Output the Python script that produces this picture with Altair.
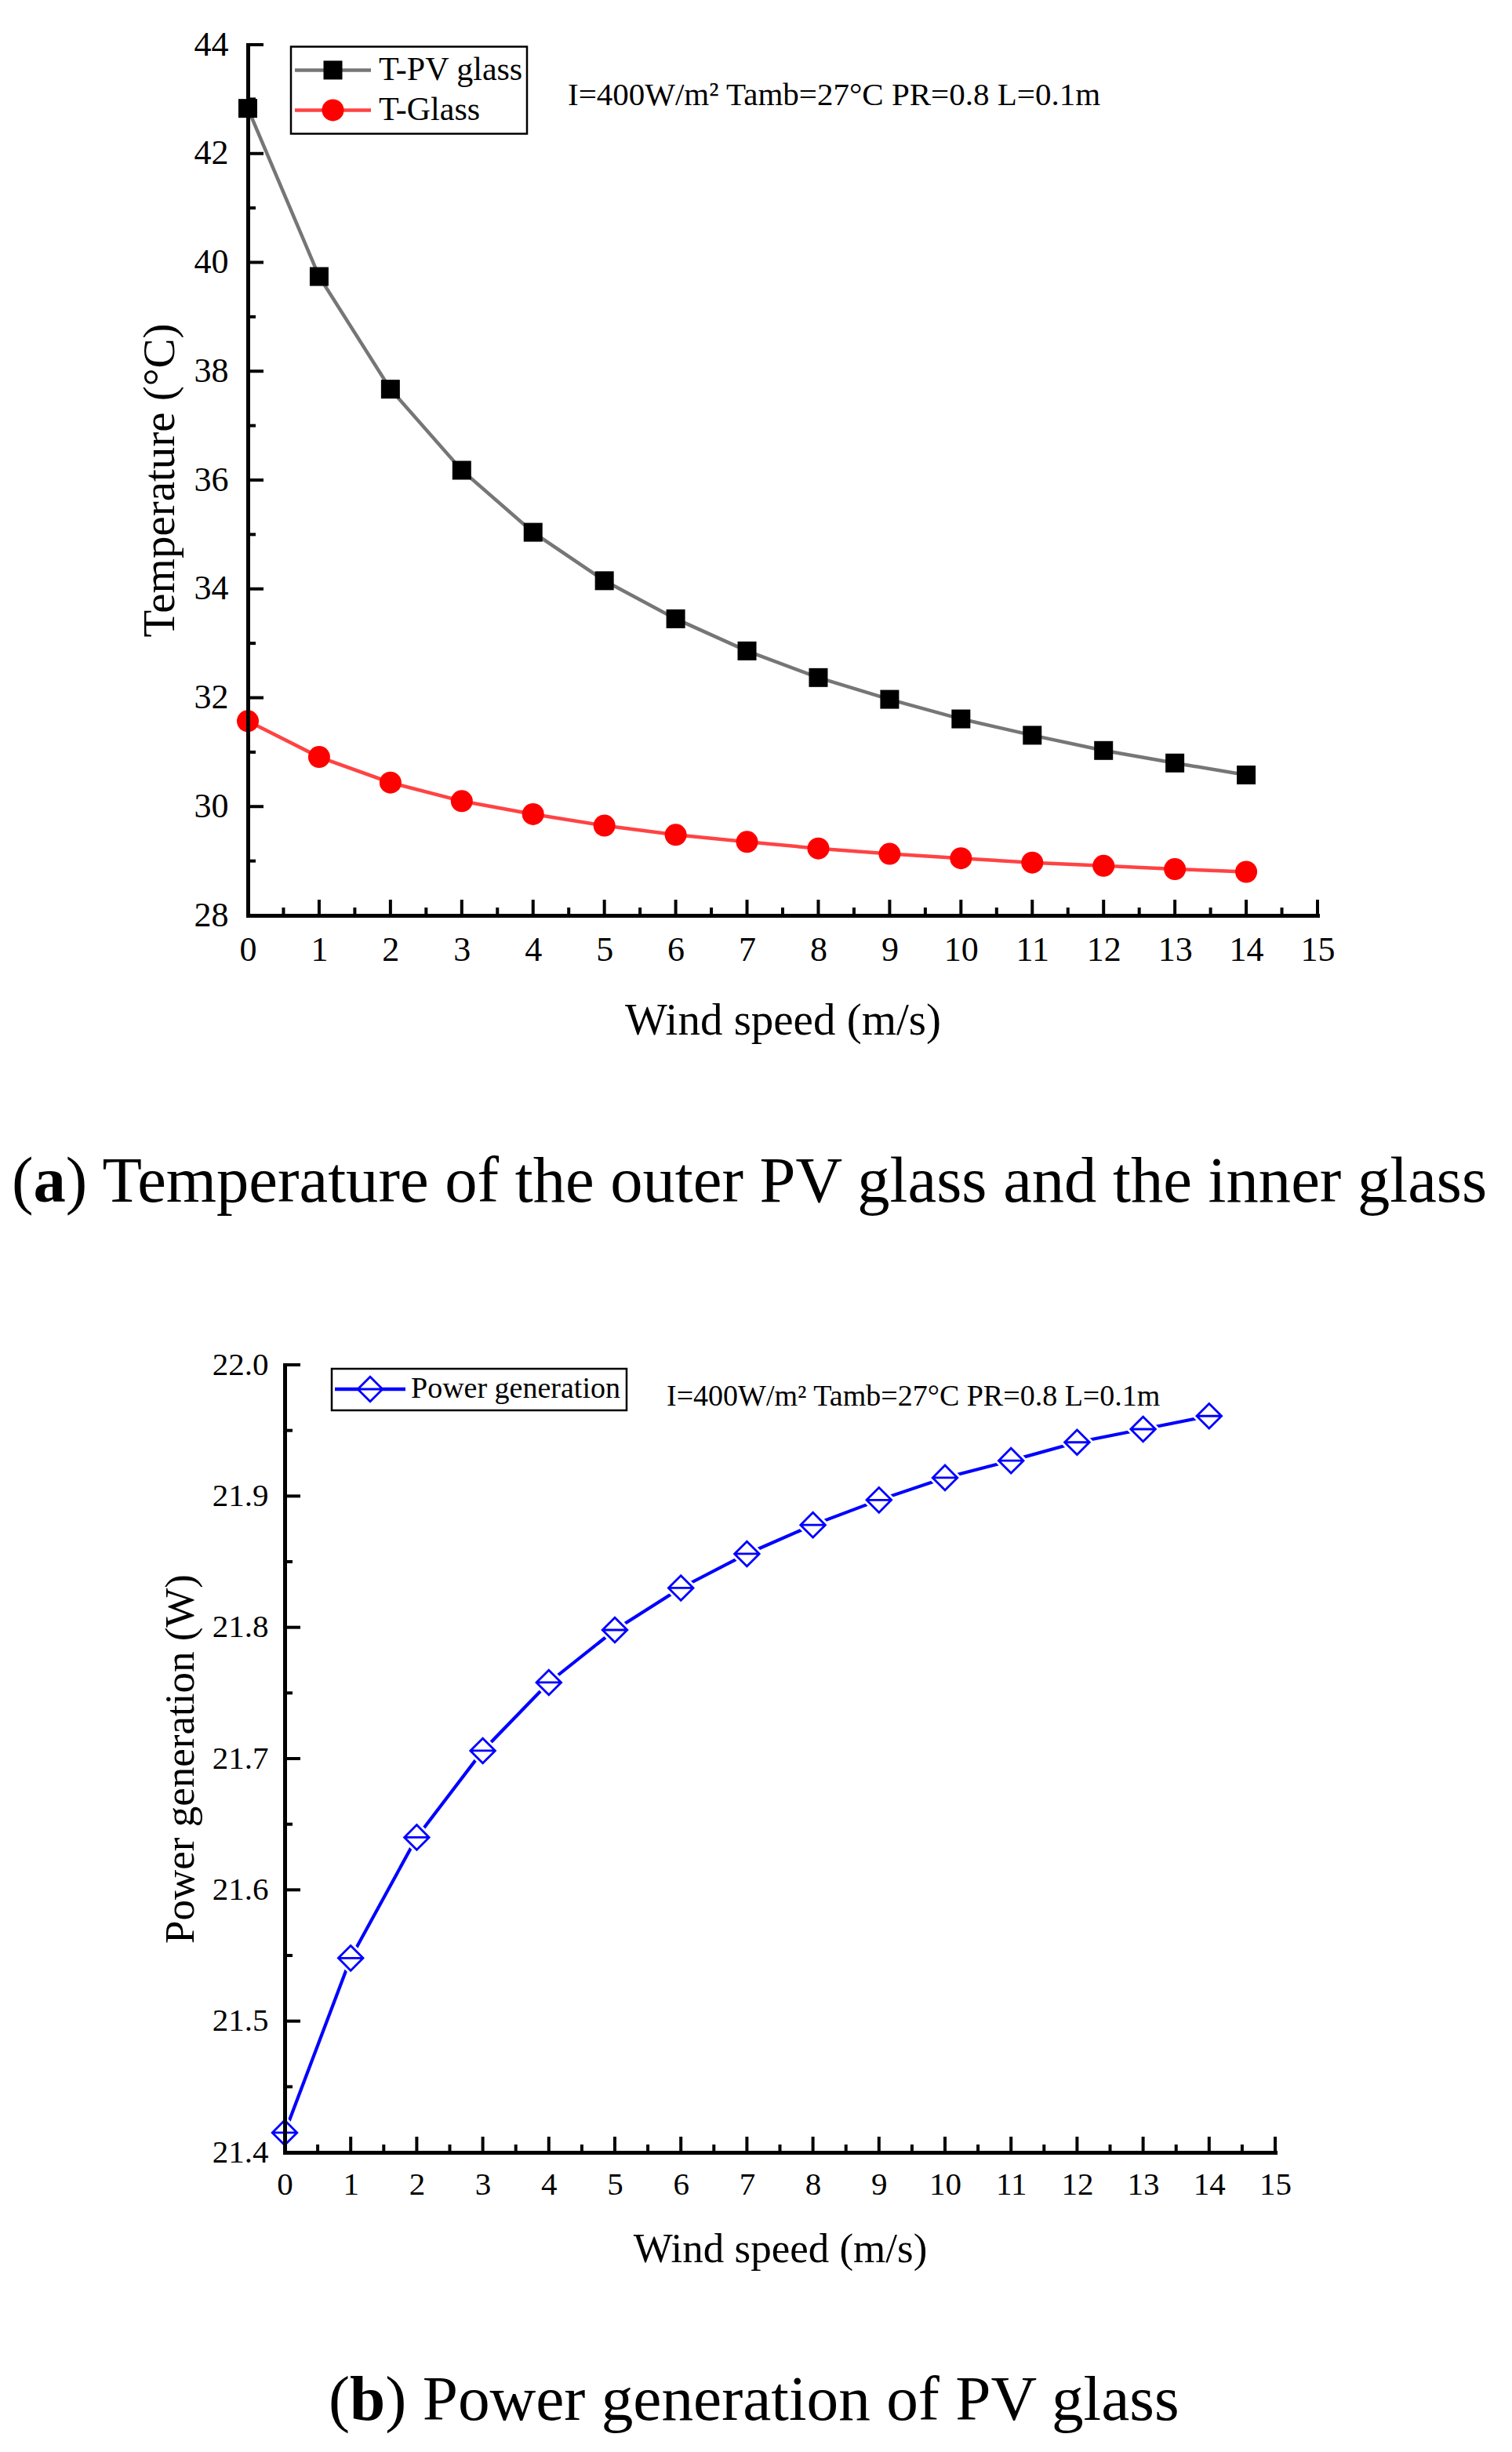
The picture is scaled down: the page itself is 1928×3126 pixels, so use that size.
import altair as alt
import pandas as pd

FONT = "Liberation Serif"

# wind speed (m/s)
wind = [0, 1, 2, 3, 4, 5, 6, 7, 8, 9, 10, 11, 12, 13, 14]

# (a) temperatures (degC)
t_pv_glass = [42.83, 39.74, 37.67, 36.18, 35.04, 34.15, 33.45, 32.86, 32.37,
              31.97, 31.61, 31.31, 31.03, 30.80, 30.58]
t_glass = [31.57, 30.91, 30.44, 30.10, 29.86, 29.65, 29.48, 29.35, 29.23,
           29.13, 29.05, 28.97, 28.91, 28.85, 28.80]

# (b) power generation (W)
power = [21.415, 21.548, 21.640, 21.706, 21.758, 21.798, 21.830, 21.856,
         21.878, 21.897, 21.914, 21.927, 21.941, 21.951, 21.961]

series_a = ["T-PV glass", "T-Glass"]
series_b = ["Power generation"]

wind_major = [0, 1, 2, 3, 4, 5, 6, 7, 8, 9, 10, 11, 12, 13, 14, 15]
wind_minor = [0.5, 1.5, 2.5, 3.5, 4.5, 5.5, 6.5, 7.5, 8.5, 9.5, 10.5, 11.5, 12.5, 13.5, 14.5]
temp_major = [28, 30, 32, 34, 36, 38, 40, 42, 44]
temp_minor = [29, 31, 33, 35, 37, 39, 41, 43]
power_major = [21.4, 21.5, 21.6, 21.7, 21.8, 21.9, 22.0]
power_minor = [21.45, 21.55, 21.65, 21.75, 21.85, 21.95]

note = "I=400W/m² Tamb=27°C PR=0.8 L=0.1m"
caption_a = ("a", ") Temperature of the outer PV glass and the inner glass")
caption_b = ("b", ") Power generation of PV glass")

DIAMOND = "M-1,0L0,-1L1,0L0,1Z M-1,0L1,0"
W_A, H_A = 1364, 1110
W_B, H_B = 1263, 1004


def x_axis(width, label_size, title_size, label_pad, title_y):
    return alt.Axis(values=wind_major, format="d", title="Wind speed (m/s)",
                    ticks=False, tickSize=0, grid=False, zindex=1,
                    domainColor="black", domainWidth=5, domainCap="square",
                    labelColor="black", labelFont=FONT, labelFontSize=label_size,
                    labelPadding=label_pad, labelFlush=False, labelOverlap=False,
                    titleFont=FONT, titleFontSize=title_size, titleFontWeight="normal",
                    titleColor="black", titleX=width / 2, titleY=title_y,
                    titleBaseline="middle", titleAlign="center")


def y_axis(height, values, fmt, title, label_size, title_size, label_pad, title_x):
    return alt.Axis(values=values, format=fmt, title=title,
                    ticks=False, tickSize=0, grid=False, zindex=1,
                    domainColor="black", domainWidth=5, domainCap="square",
                    labelColor="black", labelFont=FONT, labelFontSize=label_size,
                    labelPadding=label_pad, labelFlush=False, labelOverlap=False,
                    titleFont=FONT, titleFontSize=title_size, titleFontWeight="normal",
                    titleColor="black", titleX=title_x, titleY=height / 2,
                    titleAngle=270, titleBaseline="middle", titleAlign="center")


def tick_layers(xenc, yenc, ymajor, yminor, height):
    out = []
    for vals, ln in [(wind_major, 20), (wind_minor, 10)]:
        out.append(alt.Chart(pd.DataFrame({"t": vals})).mark_rule(color="black", strokeWidth=4)
                   .encode(x=xenc("t"), y=alt.value(height), y2=alt.value(height - ln)))
    for vals, ln in [(ymajor, 20), (yminor, 10)]:
        out.append(alt.Chart(pd.DataFrame({"t": vals})).mark_rule(color="black", strokeWidth=4)
                   .encode(y=yenc("t"), x=alt.value(0), x2=alt.value(ln)))
    return out


def text_layer(s, x, y, size, weight="normal", align="left"):
    return alt.Chart(pd.DataFrame({"s": [s]})).mark_text(
        font=FONT, fontSize=size, fontWeight=weight, align=align, baseline="middle", color="black"
    ).encode(x=alt.value(x), y=alt.value(y), text="s:N")


def caption_layers(parts, x, y, size):
    letter, rest = parts
    bold_w = {"a": 0.5, "b": 0.556}[letter] * size
    paren_w = 0.333 * size
    return [text_layer("(", x, y, size),
            text_layer(letter, x + paren_w, y, size, weight="bold"),
            text_layer(rest, x + paren_w + bold_w, y, size)]


def legend_layers(box, rows, size):
    x1, x2, y1, y2 = box
    out = [alt.Chart(pd.DataFrame({"a": [0]})).mark_rect(filled=False, stroke="black", strokeWidth=2.5)
           .encode(x=alt.value(x1), x2=alt.value(x2), y=alt.value(y1), y2=alt.value(y2))]
    for r in rows:
        one = pd.DataFrame({"a": [0]})
        out.append(alt.Chart(one).mark_rule(color=r["line"], strokeWidth=4.5)
                   .encode(x=alt.value(r["lx"][0]), x2=alt.value(r["lx"][1]), y=alt.value(r["y"])))
        out.append(alt.Chart(one).mark_point(**r["marker"])
                   .encode(x=alt.value(r["mx"]), y=alt.value(r["y"])))
        out.append(text_layer(r["label"], r["tx"], r["y"], size))
    return out


# ---------------- (a) temperature ----------------
xs_a = alt.Scale(domain=[0, 15], nice=False, zero=False)
ys_a = alt.Scale(domain=[28, 44], nice=False, zero=False)
xax_a = x_axis(W_A, 44, 57, 22, 134)
yax_a = y_axis(H_A, temp_major, "d", "Temperature (°C)", 44, 57, 25, -112)


def xa(f):
    return alt.X(f"{f}:Q", scale=xs_a, axis=xax_a)


def ya(f):
    return alt.Y(f"{f}:Q", scale=ys_a, axis=yax_a)


style_a = [
    {"line": "#767676", "marker": dict(shape="square", filled=True, color="#000000", size=576, opacity=1)},
    {"line": "#ff4343", "marker": dict(shape="circle", filled=True, color="#ff0000", size=784, opacity=1)},
]

layers_a = tick_layers(xa, ya, temp_major, temp_minor, H_A)
for vals, st in zip([t_pv_glass, t_glass], style_a):
    df = pd.DataFrame({"wind": wind, "temp": vals})
    layers_a.append(alt.Chart(df).mark_line(color=st["line"], strokeWidth=4.5)
                    .encode(x=xa("wind"), y=ya("temp")))
    layers_a.append(alt.Chart(df).mark_point(**st["marker"])
                    .encode(x=xa("wind"), y=ya("temp")))

rows_a = [
    {"label": series_a[0], "y": 32.4, "lx": (60, 157), "mx": 108.5, "tx": 167,
     "line": style_a[0]["line"], "marker": style_a[0]["marker"]},
    {"label": series_a[1], "y": 83.4, "lx": (60, 157), "mx": 108.5, "tx": 167,
     "line": style_a[1]["line"], "marker": style_a[1]["marker"]},
]
layers_a += legend_layers((55, 356, 2.4, 113.4), rows_a, 42)
layers_a.append(text_layer(note, 408, 65.4, 41))
layers_a += caption_layers(caption_a, -301, 1450, 82.6)

chart_a = alt.layer(*layers_a).properties(width=W_A, height=H_A)

# ---------------- (b) power generation ----------------
xs_b = alt.Scale(domain=[0, 15], nice=False, zero=False)
ys_b = alt.Scale(domain=[21.4, 22.0], nice=False, zero=False)
xax_b = x_axis(W_B, 41, 53, 21, 123)
yax_b = y_axis(H_B, power_major, ".1f", "Power generation (W)", 41, 53, 21, -133)


def xb(f):
    return alt.X(f"{f}:Q", scale=xs_b, axis=xax_b)


def yb(f):
    return alt.Y(f"{f}:Q", scale=ys_b, axis=yax_b)


marker_b = dict(shape=DIAMOND, filled=False, fill="white", stroke="#0000ff",
                strokeWidth=2.8, size=1000, opacity=1)
df_b = pd.DataFrame({"wind": wind, "power": power})

layers_b = tick_layers(xb, yb, power_major, power_minor, H_B)
layers_b.append(alt.Chart(df_b).mark_line(color="#0000ff", strokeWidth=4.2)
                .encode(x=xb("wind"), y=yb("power")))
layers_b.append(alt.Chart(df_b).mark_point(shape="diamond", filled=True, color="white",
                                            size=1900, opacity=1, strokeWidth=0)
                .encode(x=xb("wind"), y=yb("power")))
layers_b.append(alt.Chart(df_b).mark_point(**marker_b)
                .encode(x=xb("wind"), y=yb("power")))

rows_b = [{"label": series_b[0], "y": 31, "lx": (64, 154), "mx": 109, "tx": 161,
           "line": "#0000ff", "marker": marker_b}]
layers_b += legend_layers((60, 436, 5, 58), rows_b, 38)
layers_b.append(text_layer(note, 487, 41, 38))
layers_b += caption_layers(caption_b, 56, 1321, 81.3)

chart_b = alt.layer(*layers_b).properties(width=W_B, height=H_B)

spacer = alt.Chart(pd.DataFrame({"a": [0]})).mark_point(opacity=0).properties(width=47, height=10)
row_b = alt.hconcat(spacer, chart_b, spacing=0, bounds="flush")

chart = (
    alt.vconcat(chart_a, row_b, spacing=573, bounds="flush")
    .properties(padding={"left": 7, "top": 27, "right": 10, "bottom": 10}, background="white")
    .configure_view(strokeWidth=0)
)

chart.save("out.html", embed_options={"renderer": "svg", "actions": False})
